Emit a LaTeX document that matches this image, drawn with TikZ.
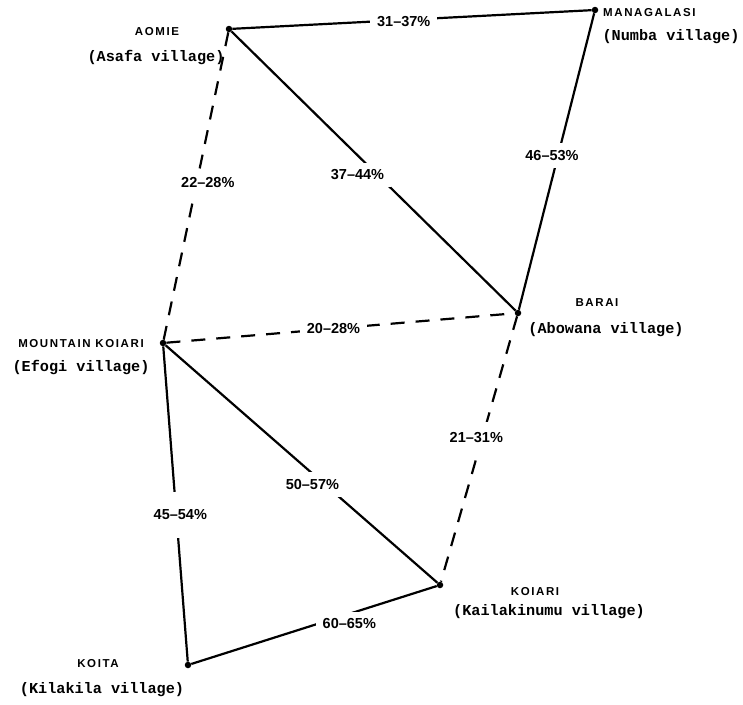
\documentclass[tikz,border=0pt]{standalone}
\usepackage{fontspec}
\newfontfamily\vilfont{Liberation Mono}
\newfontfamily\namefont[LetterSpace=14]{Liberation Sans}
\newfontfamily\pctfont{Liberation Sans}

\begin{document}
\begin{tikzpicture}[x=1pt,y=-1pt,
  site/.style={circle,fill=black,inner sep=0pt,minimum size=6.5pt},
  link/.style={line width=2.2pt},
  weak/.style={line width=2.2pt,dash pattern=on 14pt off 11pt},
  pct/.style={fill=white,inner sep=7pt,
    font=\pctfont\bfseries\fontsize{14.5}{16}\selectfont},
  tribe/.style={inner sep=0pt,
    font=\namefont\bfseries\fontsize{11.5}{13}\selectfont},
  village/.style={inner sep=0pt,
    font=\vilfont\bfseries\fontsize{15.2}{17}\selectfont}]
\useasboundingbox (0,0) rectangle (743,704);

% village sites
\node[site] (aomie) at (229,29) {};
\node[site] (mana)  at (595,10) {};
\node[site] (barai) at (518,313) {};
\node[site] (mkoi)  at (163,343) {};
\node[site] (koiari) at (440,585) {};
\node[site] (koita) at (188,665) {};

% language and village names
\node[tribe]   (aomieT) at (157,32)  {AOMIE};
\node[village] (aomieV) at (156,57)  {(Asafa village)};
\node[tribe,anchor=west] (manaT) at (603,13) {MANAGALASI};
\node[village] (manaV)  at (671,37)  {(Numba village)};
\node[tribe]   (baraiT) at (597,303) {BARAI};
\node[village] (baraiV) at (606,330) {(Abowana village)};
\node[tribe]   (mkoiT)  at (81,344)  {MOUNTAIN KOIARI};
\node[village] (mkoiV)  at (81,367)  {(Efogi village)};
\node[tribe]   (koiariT) at (535,592) {KOIARI};
\node[village] (koiariV) at (549,612) {(Kailakinumu village)};
\node[tribe]   (koitaT) at (98,664)  {KOITA};
\node[village] (koitaV) at (102,690) {(Kilakila village)};

% cognate percentages: solid links
\draw[link] (aomie) -- node[pct,pos=0.477,yshift=-2pt] (l1) {31–37\%} (mana);
\draw[link] (mana) -- node[pct,pos=0.48,xshift=-6pt] (l2) {46–53\%} (barai);
\draw[link] (aomie) -- node[pct,pos=0.514,xshift=-20pt] (l3) {37–44\%} (barai);
\draw[link] (mkoi) -- node[pct,pos=0.54,yshift=-11pt] (l7) {50–57\%} (koiari);
\draw[link] (mkoi) -- node[pct,pos=0.534,xshift=4pt,inner ysep=18pt] (l8) {45–54\%} (koita);
\draw[link] (koita) -- node[pct,pos=0.644,yshift=-10pt] (l9) {60–65\%} (koiari);

% cognate percentages: dashed links
\draw[weak] (aomie) -- node[pct,pos=0.487,xshift=11pt] (l4) {22–28\%} (mkoi);
\draw[weak] (mkoi) -- node[pct,pos=0.48] (l5) {20–28\%} (barai);
\draw[weak] (barai) -- node[pct,pos=0.456,xshift=-6pt,inner ysep=10pt] (l6) {21–31\%} (koiari);
\end{tikzpicture}
\end{document}
